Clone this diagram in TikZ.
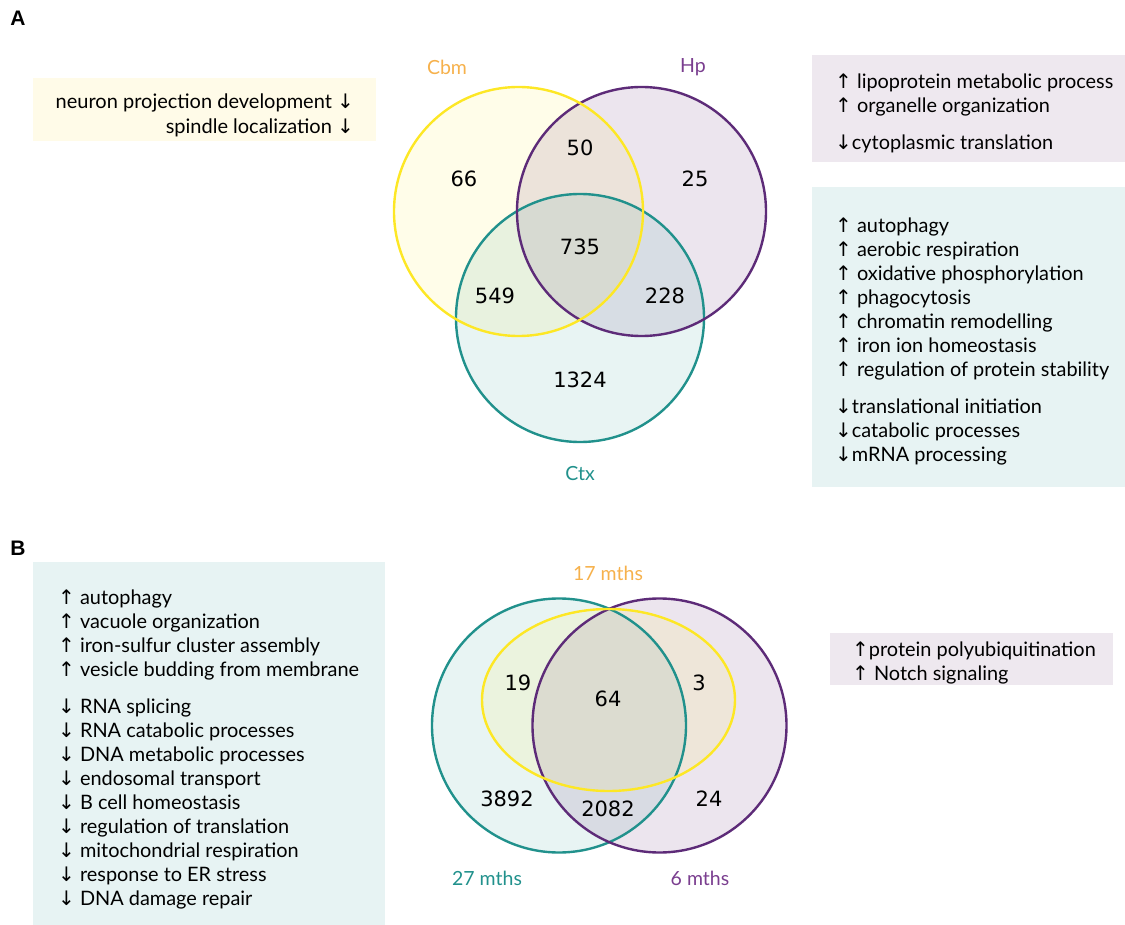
\documentclass[tikz,border=0pt]{standalone}
\usepackage{fontspec}
\setmainfont{Lato}
\newfontfamily\numfont{DejaVu Sans}
\newfontfamily\arrfont{DejaVu Sans}
\newfontfamily\panelfont{Liberation Sans}
\newcommand{\upa}{{\arrfont\fontsize{20}{20}\selectfont ↑}}
\newcommand{\dna}{{\arrfont\fontsize{20}{20}\selectfont ↓}}

\definecolor{cbmcol}{HTML}{FDE725}
\definecolor{hpcol}{HTML}{5D2B78}
\definecolor{hpfill}{HTML}{440154}
\definecolor{ctxcol}{HTML}{21918C}
\definecolor{cbmtxt}{HTML}{F6B14C}
\definecolor{hptxt}{HTML}{7A3E8F}
\definecolor{boxyel}{HTML}{FFFBE8}
\definecolor{boxpur}{HTML}{EEE8EF}
\definecolor{boxteal}{HTML}{E7F3F3}

\begin{document}
\begin{tikzpicture}[x=1pt,y=-1pt,
    golist/.style={anchor=north west,inner sep=0pt,align=left,font=\fontsize{19.9}{24}\selectfont},
    cnt/.style={font=\numfont\fontsize{21}{24}\selectfont},
    setlab/.style={inner sep=0pt,font=\fontsize{19.5}{20}\selectfont},
    panel/.style={font=\panelfont\bfseries\fontsize{21}{22}\selectfont},
    vfill/.style={fill opacity=0.1},
    vline/.style={line width=2.4pt}]
    \useasboundingbox (0,0) rectangle (1125,925);

    % A: brain regions
    \node[panel] (lblA) at (18,18) {A};
    \fill[boxyel] (33,78) rectangle (376,141);
    \fill[boxpur] (812,55) rectangle (1125,162);
    \fill[boxteal] (812,187) rectangle (1125,487);
    \node[golist,anchor=north east,align=right,font=\fontsize{20}{25}\selectfont] (goCbm) at (354,90.5) {\strut neuron projection development \dna\\ spindle localization \dna};
    \node[golist] (goHp) at (835,71.3) {\strut\upa\ lipoprotein metabolic process\\ \upa\ organelle organization\\[13pt] \dna cytoplasmic translation};
    \node[golist] (goCtx) at (835,215.3) {\strut\upa\ autophagy\\ \upa\ aerobic respiration\\ \upa\ oxidative phosphorylation\\ \upa\ phagocytosis\\ \upa\ chromatin remodelling\\ \upa\ iron ion homeostasis\\ \upa\ regulation of protein stability\\[13pt] \dna translational initiation\\ \dna catabolic processes\\ \dna mRNA processing};

    \fill[cbmcol,vfill] (518.5,211.5) circle[radius=124.5pt];
    \fill[hpfill,vfill] (641.5,211.5) circle[radius=124.5pt];
    \fill[ctxcol,vfill] (580,318) circle[radius=124pt];
    \draw[ctxcol,vline] (580,318) circle[radius=124pt];
    \draw[hpcol,vline] (641.5,211.5) circle[radius=124.5pt];
    \draw[cbmcol,vline] (518.5,211.5) circle[radius=124.5pt];

    \node[setlab,text=cbmtxt] (labCbm) at (447,67) {Cbm};
    \node[setlab,text=hptxt] (labHp) at (693,67) {Hp};
    \node[setlab,text=ctxcol] (labCtx) at (580,474) {Ctx};

    \node[cnt] (nCbm) at (464,179) {66};
    \node[cnt] (nCbmHp) at (580,148) {50};
    \node[cnt] (nHp) at (695,179) {25};
    \node[cnt] (nAll) at (580,247) {735};
    \node[cnt] (nCbmCtx) at (495,296) {549};
    \node[cnt] (nHpCtx) at (665,296) {228};
    \node[cnt] (nCtx) at (580,380) {1324};

    % B: ages
    \node[panel] (lblB) at (18,548) {B};
    \fill[boxteal] (33,562) rectangle (385,925);
    \fill[boxpur] (830,633) rectangle (1113,685);
    \node[golist] (goOld) at (58,587.5) {\strut\upa\ autophagy\\ \upa\ vacuole organization\\ \upa\ iron-sulfur cluster assembly\\ \upa\ vesicle budding from membrane\\[12.5pt] \dna\ RNA splicing\\ \dna\ RNA catabolic processes\\ \dna\ DNA metabolic processes\\ \dna\ endosomal transport\\ \dna\ B cell homeostasis\\ \dna\ regulation of translation\\ \dna\ mitochondrial respiration\\ \dna\ response to ER stress\\ \dna\ DNA damage repair};
    \node[golist] (goYoung) at (852,639.3) {\strut\upa protein polyubiquitination\\ \upa\ Notch signaling};

    \fill[ctxcol,vfill] (559,725.5) circle[radius=127pt];
    \fill[hpfill,vfill] (659.5,725.5) circle[radius=127pt];
    \fill[cbmcol,vfill] (608.5,700) ellipse[x radius=126.5pt,y radius=91pt];
    \draw[ctxcol,vline] (559,725.5) circle[radius=127pt];
    \draw[hpcol,vline] (659.5,725.5) circle[radius=127pt];
    \draw[cbmcol,vline] (608.5,700) ellipse[x radius=126.5pt,y radius=91pt];

    \node[setlab,text=cbmtxt] (lab17) at (608,573) {17 mths};
    \node[setlab,text=ctxcol] (lab27) at (487,878) {27 mths};
    \node[setlab,text=hptxt] (lab6) at (700,878) {6 mths};

    \node[cnt] (n17o) at (518,683) {19};
    \node[cnt] (nBall) at (608,699) {64};
    \node[cnt] (n17y) at (699,683) {3};
    \node[cnt] (n27) at (507,799) {3892};
    \node[cnt] (n27y6) at (608,809) {2082};
    \node[cnt] (n6) at (709,799) {24};
\end{tikzpicture}
\end{document}
